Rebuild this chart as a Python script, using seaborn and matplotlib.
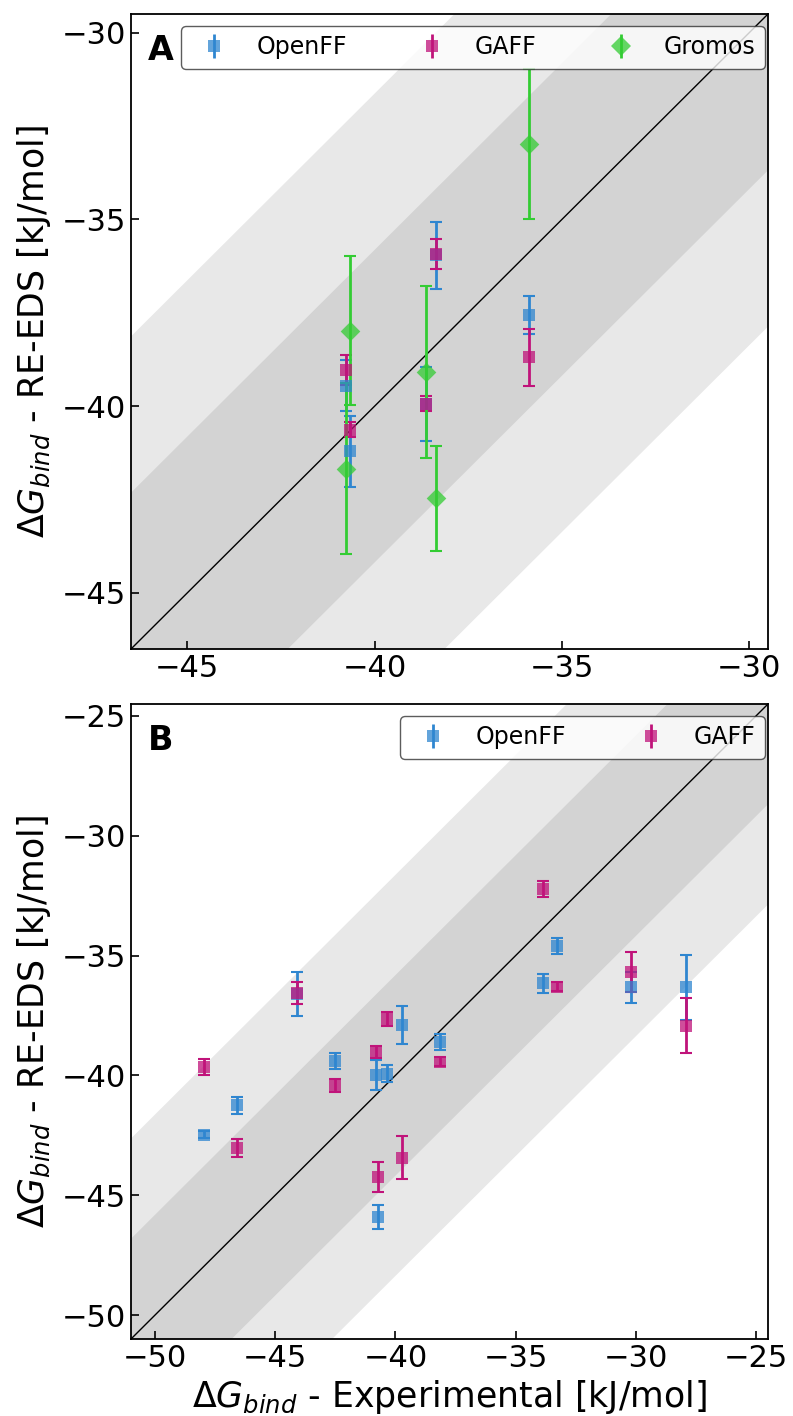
import numpy as np
import pandas as pd
import matplotlib
matplotlib.use("Agg")
import matplotlib.pyplot as plt
import seaborn as sns

# ---- Panel A: five ligands, three force fields ----
exp_a = [-35.87, -38.36, -40.76, -40.65, -38.62]
openff_a = [-37.56, -35.96, -39.45, -41.21, -39.94]
openff_a_err = [0.52, 0.90, 0.68, 0.94, 1.00]
gaff_a = [-38.69, -35.93, -39.03, -40.63, -39.94]
gaff_a_err = [0.77, 0.40, 0.41, 0.20, 0.20]
gromos_a = [-32.98, -42.47, -41.67, -37.98, -39.08]
gromos_a_err = [2.00, 1.40, 2.30, 2.00, 2.30]

# ---- Panel B: thirteen ligands, two force fields ----
exp_b = [-47.97, -46.59, -44.11, -42.52, -40.82, -40.34, -40.71,
         -39.74, -38.15, -33.84, -33.28, -30.20, -27.93]
openff_b = [-42.48, -41.25, -36.61, -39.40, -39.97, -39.93, -45.92,
            -37.89, -38.62, -36.15, -34.60, -36.33, -36.33]
openff_b_err = [0.15, 0.35, 0.92, 0.33, 0.62, 0.35, 0.50,
                0.78, 0.33, 0.39, 0.33, 0.65, 1.37]
gaff_b = [-39.65, -43.03, -36.57, -40.42, -39.03, -37.65, -44.25,
          -43.44, -39.42, -32.22, -36.29, -35.67, -37.92]
gaff_b_err = [0.35, 0.37, 0.45, 0.28, 0.25, 0.29, 0.62,
              0.90, 0.20, 0.35, 0.20, 0.84, 1.15]

limits_a = (-46.5, -29.5)
limits_b = (-51.0, -24.5)
ticks_a = [-45, -40, -35, -30]
ticks_b = [-50, -45, -40, -35, -30, -25]

KCAL = 4.184
COLORS = {"OpenFF": "#2f86d0", "GAFF": "#c0137a", "Gromos": "#33cc33"}
MARKERS = {"OpenFF": "s", "GAFF": "s", "Gromos": "D"}
MSIZE = {"OpenFF": 9, "GAFF": 9, "Gromos": 10}

sns.set_style("white")
plt.rcParams["font.family"] = ["DejaVu Sans"]
plt.rcParams["mathtext.fontset"] = "dejavusans"
plt.rcParams["text.color"] = "black"
plt.rcParams["axes.labelcolor"] = "black"
plt.rcParams["xtick.color"] = "black"
plt.rcParams["ytick.color"] = "black"

fig = plt.figure(figsize=(7.93, 14.16), dpi=100)
ax_a = fig.add_axes([131 / 793, 1 - 649 / 1416, 637 / 793, 635 / 1416])
ax_b = fig.add_axes([131 / 793, 1 - 1339 / 1416, 637 / 793, 635 / 1416])


def draw_panel(ax, exp, series, limits, ticks, letter):
    lo, hi = limits
    diag = np.array([lo - 20, hi + 20])
    ax.fill_between(diag, diag - 2 * KCAL, diag + 2 * KCAL,
                    color="#e8e8e8", lw=0, zorder=0)
    ax.fill_between(diag, diag - KCAL, diag + KCAL,
                    color="#d3d3d3", lw=0, zorder=0)
    ax.plot(diag, diag, color="black", lw=1.0, zorder=1)

    handles = []
    for name, vals, errs in series:
        df = pd.DataFrame({"exp": exp, "calc": vals})
        ax.errorbar(exp, vals, yerr=errs, fmt="none", ecolor=COLORS[name],
                    elinewidth=2.0, capsize=4, capthick=1.5, zorder=3)
        sns.scatterplot(data=df, x="exp", y="calc", ax=ax, marker=MARKERS[name],
                        color=COLORS[name], s=MSIZE[name] ** 2, alpha=0.75,
                        linewidth=0, legend=False, zorder=4)
        h = ax.errorbar([np.nan], [np.nan], yerr=[1.0], fmt=MARKERS[name],
                        color=COLORS[name], ms=MSIZE[name], mew=0,
                        elinewidth=2.0, capsize=4, capthick=1.5, label=name)
        h.lines[0].set_alpha(0.75)
        handles.append(h)

    ax.set_xlim(limits)
    ax.set_ylim(limits)
    ax.set_xticks(ticks)
    ax.set_yticks(ticks)
    ax.set_xlabel("")
    ax.set_ylabel(r"$\Delta G_{bind}$ - RE-EDS [kJ/mol]", fontsize=25,
                  labelpad=6)
    ax.tick_params(axis="both", direction="in", length=6, width=1.2,
                   labelsize=22, bottom=True, left=True, top=False, right=False)
    for sp in ax.spines.values():
        sp.set_color("black")
        sp.set_linewidth(1.3)
        sp.set_visible(True)

    ax.legend(handles=handles, ncol=len(handles), fontsize=17,
              loc="upper right", bbox_to_anchor=(1 - 3 / 637, 1 - 12 / 635),
              borderaxespad=0, columnspacing=2.6, handletextpad=0.8,
              frameon=True, fancybox=True, framealpha=0.8, edgecolor="#333333",
              labelcolor="black")
    ax.text(0.026, 0.968, letter, transform=ax.transAxes, fontsize=24,
            fontweight="bold", ha="left", va="top", zorder=6)


draw_panel(ax_a, exp_a,
           [("OpenFF", openff_a, openff_a_err),
            ("GAFF", gaff_a, gaff_a_err),
            ("Gromos", gromos_a, gromos_a_err)],
           limits_a, ticks_a, "A")
draw_panel(ax_b, exp_b,
           [("OpenFF", openff_b, openff_b_err),
            ("GAFF", gaff_b, gaff_b_err)],
           limits_b, ticks_b, "B")
ax_b.set_xlabel(r"$\Delta G_{bind}$ - Experimental [kJ/mol]", fontsize=25,
                labelpad=4)

fig.savefig("out.png", dpi=100)
